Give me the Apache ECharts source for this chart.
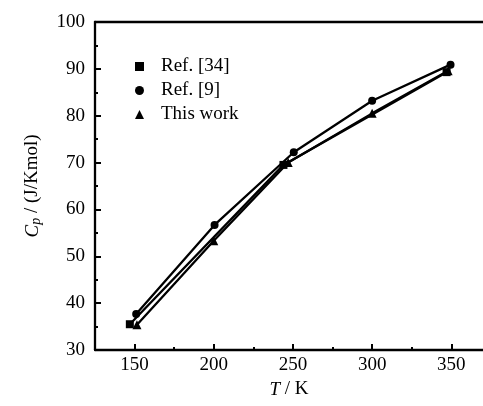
<!DOCTYPE html>
<html>
<head>
<meta charset="utf-8">
<script src="https://cdn.jsdelivr.net/npm/echarts@6/dist/echarts.min.js"></script>
<style>
html, body { margin: 0; padding: 0; background: #fff; }
#chart { width: 483px; height: 406px; }
</style>
</head>
<body>
<div id="chart"></div>
<script>
// values
const ref34 = [[147, 35.5], [244, 69.5], [347, 89.3]];
const ref9 = [[151, 37.7], [200.5, 56.7], [250.5, 72.2], [300, 83.2], [349.5, 90.9]];
const thisWork = [[151.5, 35.4], [200, 53.3], [247, 70.0], [300, 80.5], [348, 89.6]];
const xMajor = [150, 200, 250, 300, 350];
const xMinor = [175, 225, 275, 325];

const font = 'Liberation Serif';
const black = '#000';
const fs = 19;

const chart = echarts.init(document.getElementById('chart'));

const baseSeries = function (name, data, symbol, size) {
    return {
        name: name,
        type: 'line',
        data: data,
        symbol: symbol,
        symbolSize: size,
        lineStyle: { color: black, width: 2.3 },
        itemStyle: { color: black },
        animation: false
    };
};

chart.setOption({
    animation: false,
    grid: { left: 95, right: 0, top: 22, bottom: 56 },
    legend: {
        orient: 'vertical',
        left: 130,
        top: 52,
        itemGap: 5,
        itemWidth: 9,
        itemHeight: 9,
        textStyle: { fontFamily: font, fontSize: fs, color: black, padding: [0, 0, 0, 12] },
        data: [
            { name: 'Ref. [34]', icon: 'rect' },
            { name: 'Ref. [9]', icon: 'circle' },
            { name: 'This work', icon: 'triangle' }
        ]
    },
    xAxis: [{
        type: 'value',
        min: 125,
        max: 370,
        name: '{i|T} / K',
        nameLocation: 'middle',
        nameGap: 30,
        nameTextStyle: {
            fontFamily: font, fontSize: fs, color: black,
            rich: { i: { fontFamily: font, fontSize: fs, fontStyle: 'italic', color: black } }
        },
        splitLine: { show: false },
        axisLine: { lineStyle: { color: black, width: 2.3 } },
        axisTick: { inside: true, length: 6, customValues: xMajor, lineStyle: { color: black, width: 2 } },
        axisLabel: { customValues: xMajor, fontFamily: font, fontSize: fs, color: black, margin: 6 }
    }, {
        type: 'value',
        min: 125,
        max: 370,
        position: 'bottom',
        splitLine: { show: false },
        axisLine: { show: false },
        axisLabel: { show: false },
        axisTick: { inside: true, length: 3, customValues: xMinor, lineStyle: { color: black, width: 2 } }
    }, {
        type: 'value',
        min: 125,
        max: 370,
        position: 'top',
        splitLine: { show: false },
        axisLine: { lineStyle: { color: black, width: 2.3 } },
        axisTick: { show: false },
        axisLabel: { show: false }
    }],
    yAxis: {
        type: 'value',
        min: 30,
        max: 100,
        interval: 10,
        name: '{i|C}{s|p} / (J/Kmol)',
        nameLocation: 'middle',
        nameRotate: 90,
        nameGap: 52,
        nameTextStyle: {
            fontFamily: font, fontSize: fs, color: black,
            rich: {
                i: { fontFamily: font, fontSize: fs, fontStyle: 'italic', color: black },
                s: { fontFamily: font, fontSize: 14, fontStyle: 'italic', color: black, verticalAlign: 'bottom', padding: [7, 0, 0, 0] }
            }
        },
        splitLine: { show: false },
        axisLine: { lineStyle: { color: black, width: 2.3 } },
        axisTick: { inside: true, length: 6, lineStyle: { color: black, width: 2 } },
        minorTick: { show: true, splitNumber: 2, length: 3, lineStyle: { color: black, width: 2 } },
        axisLabel: { fontFamily: font, fontSize: fs, color: black, margin: 10 }
    },
    series: [
        baseSeries('Ref. [34]', ref34, 'rect', 8),
        baseSeries('Ref. [9]', ref9, 'circle', 8),
        baseSeries('This work', thisWork, 'triangle', 9)
    ]
});
</script>
</body>
</html>
